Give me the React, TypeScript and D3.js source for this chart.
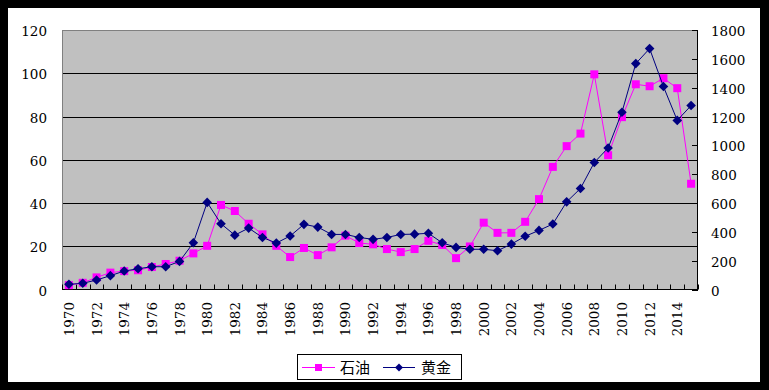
import * as d3 from 'd3';
import React, { useRef, useEffect } from 'react';

// 1970 - 2015
const years = d3.range(1970, 2016);

// 石油 (left axis)
const oil = [
  2.0, 3.1, 5.6, 7.8, 8.5, 8.9, 10.4, 11.8, 13.3, 16.7,
  20.2, 39.1, 36.3, 30.4, 25.5, 20.2, 15.0, 19.2, 15.9, 19.5,
  24.9, 21.5, 20.9, 18.7, 17.3, 18.7, 22.5, 20.6, 14.5, 19.9,
  30.9, 26.2, 26.2, 31.3, 41.8, 56.7, 66.3, 72.1, 99.5, 62.1,
  79.7, 94.9, 94.0, 97.7, 93.1, 48.9,
];

// 黄金 (right axis)
const gold = [
  36, 43, 66, 96, 128, 144, 158, 158, 195, 324,
  604, 456, 377, 426, 361, 322, 371, 452, 433, 382,
  382, 361, 348, 361, 382, 384, 390, 324, 292, 279,
  279, 269, 315, 369, 410, 454, 608, 701, 881, 982,
  1230, 1567, 1671, 1408, 1173, 1276,
];

const leftTicks = [0, 20, 40, 60, 80, 100, 120];
const rightTicks = [0, 200, 400, 600, 800, 1000, 1200, 1400, 1600, 1800];
const seriesNames = ['石油', '黄金'];

const W = 769;
const H = 390;
const plot = { left: 62, right: 698, top: 30, bottom: 289.5 };
const numFont = '"DejaVu Serif", serif';
const cjkFont = '"Noto Sans CJK SC", sans-serif';

const diamond = (s: number) => `M0,${-s}L${s},0L0,${s}L${-s},0Z`;

const App = () => {
  const ref = useRef<SVGSVGElement>(null);

  useEffect(() => {
    const svg = d3.select(ref.current);
    svg.selectAll('*').remove();

    // frame
    svg.append('rect').attr('width', W).attr('height', H).attr('fill', '#000');
    svg.append('rect').attr('x', 8).attr('y', 8).attr('width', 752).attr('height', 374).attr('fill', '#fff');

    const x = d3.scaleBand<number>()
      .domain(years)
      .range([plot.left, plot.right])
      .paddingInner(0)
      .paddingOuter(0);
    const bw = x.bandwidth();
    const cx = (yr: number) => (x(yr) as number) + bw / 2;

    const yL = d3.scaleLinear().domain([0, 120]).range([plot.bottom, plot.top]);
    const yR = d3.scaleLinear().domain([0, 1800]).range([plot.bottom, plot.top]);

    // plot area
    svg.append('rect')
      .attr('x', plot.left).attr('y', plot.top)
      .attr('width', plot.right - plot.left).attr('height', plot.bottom - plot.top)
      .attr('fill', '#c0c0c0');

    // gridlines
    svg.append('g')
      .selectAll('line')
      .data(leftTicks.filter((t) => t > 0 && t < 120))
      .join('line')
      .attr('x1', plot.left).attr('x2', plot.right)
      .attr('y1', (d) => Math.round(yL(d)) + 0.5).attr('y2', (d) => Math.round(yL(d)) + 0.5)
      .attr('stroke', '#000').attr('stroke-width', 1);

    // plot border top + left
    svg.append('line')
      .attr('x1', plot.left).attr('x2', plot.right)
      .attr('y1', plot.top + 0.5).attr('y2', plot.top + 0.5)
      .attr('stroke', '#808080');
    svg.append('line')
      .attr('x1', plot.left + 0.5).attr('x2', plot.left + 0.5)
      .attr('y1', plot.top).attr('y2', plot.bottom)
      .attr('stroke', '#808080');
    // right axis line
    svg.append('line')
      .attr('x1', plot.right - 0.5).attr('x2', plot.right - 0.5)
      .attr('y1', plot.top).attr('y2', plot.bottom)
      .attr('stroke', '#000');
    // bottom axis line
    svg.append('line')
      .attr('x1', plot.left).attr('x2', plot.right)
      .attr('y1', plot.bottom).attr('y2', plot.bottom)
      .attr('stroke', '#000');

    // right ticks (inward)
    svg.append('g')
      .selectAll('line')
      .data(rightTicks)
      .join('line')
      .attr('x1', plot.right - 6).attr('x2', plot.right)
      .attr('y1', (d) => Math.round(yR(d)) + 0.5).attr('y2', (d) => Math.round(yR(d)) + 0.5)
      .attr('stroke', '#000');

    // x ticks at category boundaries (inward)
    svg.append('g')
      .selectAll('line')
      .data(d3.range(years.length + 1))
      .join('line')
      .attr('x1', (i) => Math.round(plot.left + i * bw) + 0.5)
      .attr('x2', (i) => Math.round(plot.left + i * bw) + 0.5)
      .attr('y1', plot.bottom - 5).attr('y2', plot.bottom)
      .attr('stroke', '#000');

    // left labels
    svg.append('g')
      .selectAll('text')
      .data(leftTicks)
      .join('text')
      .attr('x', 47).attr('y', (d) => yL(d) + 6)
      .attr('text-anchor', 'end')
      .style('font-family', numFont).style('font-size', '13.5px')
      .text((d) => d);

    // right labels
    svg.append('g')
      .selectAll('text')
      .data(rightTicks)
      .join('text')
      .attr('x', 711).attr('y', (d) => yR(d) + 6)
      .style('font-family', numFont).style('font-size', '13.5px')
      .text((d) => d);

    // x labels
    svg.append('g')
      .selectAll('text')
      .data(years.filter((yr) => yr % 2 === 0 && yr < 2015))
      .join('text')
      .attr('transform', (d) => `translate(${cx(d) + 5},302) rotate(-90)`)
      .attr('text-anchor', 'end')
      .style('font-family', numFont).style('font-size', '13.5px')
      .text((d) => d);

    // oil line
    svg.append('path')
      .datum(oil)
      .attr('fill', 'none')
      .attr('stroke', '#ff00ff')
      .attr('stroke-width', 1)
      .attr('d', d3.line<number>().x((_, i) => cx(years[i])).y((d) => yL(d)));
    svg.append('g')
      .selectAll('rect')
      .data(oil)
      .join('rect')
      .attr('x', (_, i) => cx(years[i]) - 4).attr('y', (d) => yL(d) - 4)
      .attr('width', 8).attr('height', 8)
      .attr('fill', '#ff00ff');

    // gold line
    svg.append('path')
      .datum(gold)
      .attr('fill', 'none')
      .attr('stroke', '#000080')
      .attr('stroke-width', 1)
      .attr('d', d3.line<number>().x((_, i) => cx(years[i])).y((d) => yR(d)));
    svg.append('g')
      .selectAll('path')
      .data(gold)
      .join('path')
      .attr('transform', (d, i) => `translate(${cx(years[i])},${yR(d)})`)
      .attr('d', diamond(4.8))
      .attr('fill', '#000080');

    // Handmade legend
    const lg = svg.append('g');
    lg.append('rect').attr('x', 297.5).attr('y', 354.5).attr('width', 164).attr('height', 25)
      .attr('fill', '#fff').attr('stroke', '#000');
    lg.append('line').attr('x1', 302).attr('x2', 335).attr('y1', 367.5).attr('y2', 367.5).attr('stroke', '#ff00ff');
    lg.append('rect').attr('x', 315).attr('y', 364).attr('width', 7).attr('height', 7).attr('fill', '#ff00ff');
    lg.append('text').attr('x', 340).attr('y', 373).text(seriesNames[0])
      .style('font-family', cjkFont).style('font-size', '15px');
    lg.append('line').attr('x1', 383).attr('x2', 415).attr('y1', 367.5).attr('y2', 367.5).attr('stroke', '#000080');
    lg.append('path').attr('transform', 'translate(399,367.5)').attr('d', diamond(4)).attr('fill', '#000080');
    lg.append('text').attr('x', 421).attr('y', 373).text(seriesNames[1])
      .style('font-family', cjkFont).style('font-size', '15px');
  }, []);

  return (
    <svg
      ref={ref}
      width={W}
      height={H}
      style={{ position: 'absolute', left: 0, top: 0, display: 'block' }}
    ></svg>
  );
};

export default App;
